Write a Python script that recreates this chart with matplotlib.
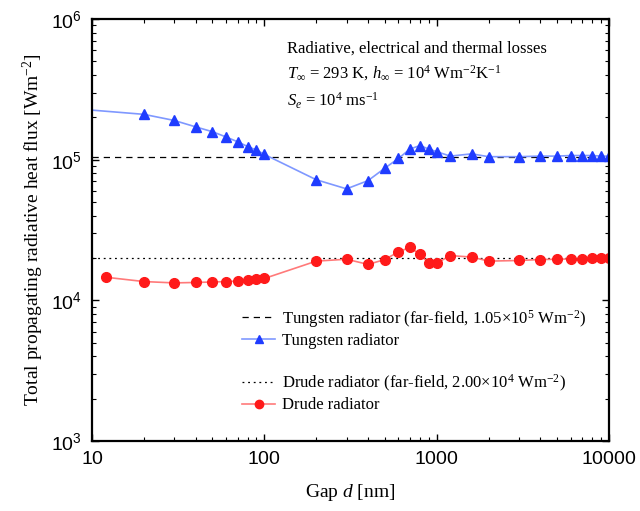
import numpy as np
import matplotlib

matplotlib.use("Agg")
import matplotlib.pyplot as plt
from matplotlib.lines import Line2D
from matplotlib.ticker import FixedLocator, FixedFormatter, LogLocator, NullFormatter

plt.rcParams.update({
    "font.family": "Liberation Serif",
    "mathtext.fontset": "custom",
    "mathtext.rm": "Liberation Serif",
    "mathtext.it": "Liberation Serif:italic",
    "mathtext.sf": "Liberation Sans",
    "xtick.direction": "in", "ytick.direction": "in",
    "xtick.top": True, "ytick.right": True,
})

# gap (nm) and total propagating radiative heat flux (W m^-2)
gap_w = [10, 20, 30, 40, 50, 60, 70, 80, 90, 100, 200, 300, 400, 500, 600, 700, 800,
         900, 1000, 1200, 1600, 2000, 3000, 4000, 5000, 6000, 7000, 8000, 9000, 10000]
flux_w = [2.25e5, 2.1e5, 1.9e5, 1.71e5, 1.58e5, 1.45e5, 1.34e5, 1.24e5, 1.17e5, 1.09e5,
          7.2e4, 6.2e4, 7.1e4, 8.7e4, 1.02e5, 1.19e5, 1.26e5, 1.19e5, 1.14e5, 1.06e5,
          1.1e5, 1.05e5, 1.05e5, 1.06e5, 1.06e5, 1.07e5, 1.07e5, 1.07e5, 1.06e5, 1.06e5]

gap_d = [12, 20, 30, 40, 50, 60, 70, 80, 90, 100, 200, 300, 400, 500, 600, 700, 800,
         900, 1000, 1200, 1600, 2000, 3000, 4000, 5000, 6000, 7000, 8000, 9000, 10000]
flux_d = [1.46e4, 1.36e4, 1.33e4, 1.34e4, 1.35e4, 1.36e4, 1.37e4, 1.39e4, 1.41e4, 1.43e4,
          1.9e4, 1.96e4, 1.8e4, 1.95e4, 2.21e4, 2.38e4, 2.12e4, 1.84e4, 1.84e4, 2.08e4,
          2.03e4, 1.9e4, 1.92e4, 1.95e4, 1.96e4, 1.97e4, 1.97e4, 1.99e4, 1.99e4, 1.99e4]

far_w = 1.05e5
far_d = 2.00e4

xticks = [10, 100, 1000, 10000]
yticks = [1e3, 1e4, 1e5, 1e6]

fig = plt.figure(figsize=(6.4, 5.11), dpi=100)
ax = fig.add_axes([92 / 640, 1 - 441 / 511, 517 / 640, 422 / 511])

ax.axhline(far_w, color="black", ls=(0, (5, 4)), lw=0.9)
ax.plot(gap_w, flux_w, color="#7f98ff", lw=1.2, marker="^", ms=6.5,
        mfc="#1f3cff", mec="#1f3cff", markevery=list(range(1, len(gap_w))))
ax.axhline(far_d, color="black", ls=(0, (1.5, 3)), lw=0.9)
ax.plot(gap_d, flux_d, color="#ff7a7a", lw=1.2, marker="o", ms=7,
        mfc="#ff1a1a", mec="#ff1a1a")

ax.set_xscale("log")
ax.set_yscale("log")
ax.set_xlim(10, 10000)
ax.set_ylim(1e3, 1e6)

ax.xaxis.set_major_locator(FixedLocator(xticks))
ax.xaxis.set_major_formatter(FixedFormatter([f"$\\mathsf{{{v}}}$" for v in xticks]))
ax.yaxis.set_major_locator(FixedLocator(yticks))
ax.yaxis.set_major_formatter(FixedFormatter(
    [f"$\\mathsf{{10^{{{int(np.log10(v))}}}}}$" for v in yticks]))
for a in (ax.xaxis, ax.yaxis):
    a.set_minor_locator(LogLocator(base=10, subs=np.arange(2, 10), numticks=20))
    a.set_minor_formatter(NullFormatter())
ax.tick_params(which="major", length=5, width=1, labelsize=14, pad=7)
ax.tick_params(which="minor", length=3, width=0.8)
for s in ax.spines.values():
    s.set_linewidth(1.6)

ax.set_xlabel("Gap $d$ [nm]", fontsize=14, labelpad=10)
ax.set_ylabel("Total propagating radiative heat flux [Wm$^{-2}$]", fontsize=14, labelpad=4)

ax.text(0.378, 0.948, "Radiative, electrical and thermal losses\n"
        "$T_{\\infty}$ = 293 K, $h_{\\infty}$ = 10$^4$ Wm$^{-2}$K$^{-1}$\n"
        "$S_e$ = 10$^4$ ms$^{-1}$",
        transform=ax.transAxes, fontsize=12, va="top", ha="left", linespacing=1.45)

handles = [
    Line2D([], [], color="black", ls=(0, (5, 4)), lw=0.9),
    Line2D([], [], color="#7f98ff", lw=1.2, marker="^", ms=6, mfc="#1f3cff", mec="#1f3cff"),
    Line2D([], [], color="none"),
    Line2D([], [], color="black", ls=(0, (1.5, 3)), lw=0.9),
    Line2D([], [], color="#ff7a7a", lw=1.2, marker="o", ms=6, mfc="#ff1a1a", mec="#ff1a1a"),
]
labels = [
    "Tungsten radiator (far-field, 1.05$\\times$10$^5$ Wm$^{-2}$)",
    "Tungsten radiator",
    "",
    "Drude radiator (far-field, 2.00$\\times$10$^4$ Wm$^{-2}$)",
    "Drude radiator",
]
ax.legend(handles, labels, loc="lower right", bbox_to_anchor=(0.985, 0.03), frameon=False,
          fontsize=12, handlelength=2.0, handletextpad=0.4, labelspacing=0.22)

fig.savefig("out.png", dpi=100)
